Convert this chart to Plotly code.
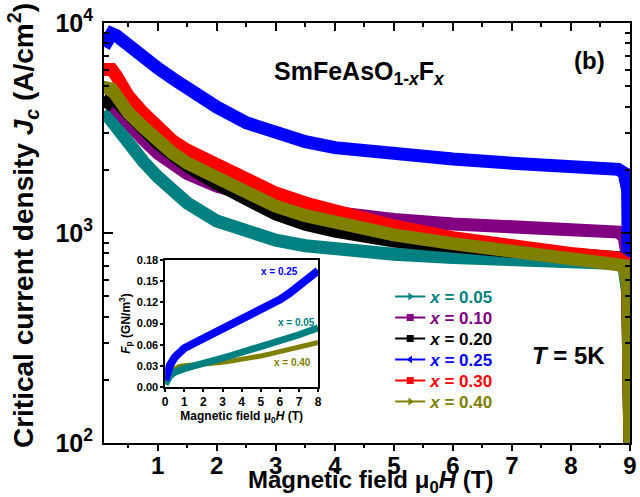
import plotly.graph_objects as go

# ---------------- data ----------------
field = [0.09, 0.15, 0.22, 0.3, 0.5, 0.75, 1, 1.25, 1.5, 2, 2.5, 3, 3.5, 4, 5, 6, 7, 8, 8.8, 8.9, 8.96, 9.0]

jc_005 = [3800, 3600, 3400, 3150, 2650, 2200, 1850, 1580, 1390, 1140, 1010, 925, 870, 835, 792, 765, 745, 728, 715, 680, 520, 90]
jc_010 = [None, 4300, 4200, 3900, 3300, 2800, 2400, 2120, 1920, 1670, 1500, 1390, 1300, 1240, 1160, 1105, 1065, 1035, 1010, 960, 760, 90]
jc_020 = [3950, 4300, 4450, 4250, 3650, 3150, 2680, 2330, 2080, 1720, 1430, 1230, 1100, 1020, 915, 858, 818, 792, 780, 760, 650, 90]
jc_025 = [7700, 8500, 8900, 8700, 7800, 6900, 6100, 5450, 4900, 3980, 3350, 2970, 2720, 2550, 2370, 2250, 2150, 2070, 2010, 1930, 1600, 90]
jc_030 = [6000, 6000, 6000, 5600, 4500, 3750, 3150, 2750, 2480, 2100, 1780, 1550, 1390, 1270, 1080, 950, 860, 800, 760, 730, 600, 90]
jc_040 = [4600, 4900, 4850, 4450, 3750, 3200, 2750, 2400, 2150, 1820, 1530, 1340, 1210, 1120, 980, 890, 820, 765, 730, 700, 560, 90]

labels = ["0.05", "0.10", "0.20", "0.25", "0.30", "0.40"]
colors = ["#008080", "#800080", "#000000", "#0000FF", "#FF0000", "#808000"]
symbols = ["triangle-right", "square", "square", "triangle-left", "square", "triangle-right"]
series = [jc_005, jc_010, jc_020, jc_025, jc_030, jc_040]

field_inset = [0, 0.1, 0.25, 0.5, 0.75, 1, 1.5, 2, 2.5, 3, 3.5, 4, 4.5, 5, 5.5, 6, 6.5, 7, 7.5, 8]
fp_025 = [0.010, 0.020, 0.031, 0.042, 0.050, 0.055, 0.062, 0.069, 0.075, 0.081, 0.088, 0.095, 0.101, 0.108, 0.116, 0.124, 0.133, 0.143, 0.153, 0.165]
fp_005 = [0.004, 0.010, 0.016, 0.021, 0.024, 0.026, 0.030, 0.033, 0.037, 0.041, 0.045, 0.049, 0.052, 0.056, 0.060, 0.065, 0.069, 0.074, 0.079, 0.084]
fp_040 = [0.010, 0.016, 0.022, 0.026, 0.029, 0.030, 0.031, 0.032, 0.033, 0.035, 0.037, 0.039, 0.042, 0.044, 0.047, 0.050, 0.053, 0.056, 0.059, 0.063]

y_tickvals = [100, 1000, 10000]
y_ticktext = ["<b>10<sup>2</sup></b>", "<b>10<sup>3</sup></b>", "<b>10<sup>4</sup></b>"]
y_minor = [m * d for d in (100, 1000) for m in range(2, 10)]

FONT = "Liberation Sans, Arial, sans-serif"

L, R, T, B = 104, 3, 23, 54
W, H = 640, 497
pw, ph = W - L - R, H - T - B

def px(xp):
    return (xp - L) / pw

def py(yp):
    return (H - B - yp) / ph

legend_rows = [297, 318, 339, 360, 381, 402]

fig = go.Figure()

# main curves (thick dense bands)
for lab, col, ys in zip(labels, colors, series):
    fig.add_trace(go.Scatter(x=field, y=ys, mode="lines",
                             line=dict(color=col, width=13),
                             showlegend=False, hoverinfo="skip",
                             xaxis="x", yaxis="y"))

# legend entries, each in its own legend box for exact row spacing
legend_layouts = {}
for i, (lab, col, sym) in enumerate(zip(labels, colors, symbols)):
    lname = "legend" if i == 0 else f"legend{i + 1}"
    fig.add_trace(go.Scatter(x=[None], y=[None], mode="lines+markers",
                             line=dict(color=col, width=2),
                             marker=dict(color=col, symbol=sym, size=7),
                             name=f"<b><span style='color:{col}'><i>x</i> = {lab}</span></b>",
                             legend=lname, xaxis="x", yaxis="y"))
    legend_layouts[lname] = dict(x=px(394), y=py(legend_rows[i]), xanchor="left", yanchor="middle",
                                 bgcolor="rgba(0,0,0,0)", font=dict(size=17, family=FONT),
                                 itemwidth=30)

# dummy traces for extra tick axes
fig.add_trace(go.Scatter(x=[None], y=[None], xaxis="x2", yaxis="y",
                         showlegend=False, hoverinfo="skip"))
fig.add_trace(go.Scatter(x=[None], y=[None], xaxis="x4", yaxis="y",
                         showlegend=False, hoverinfo="skip"))

# inset curves
for ys, col, w in [(fp_040, "#808000", 5), (fp_005, "#008080", 7), (fp_025, "#0000FF", 8)]:
    fig.add_trace(go.Scatter(x=field_inset, y=ys, mode="lines",
                             line=dict(color=col, width=w),
                             showlegend=False, hoverinfo="skip",
                             xaxis="x3", yaxis="y3"))

fig.update_layout(
    width=W, height=H,
    margin=dict(l=L, r=R, t=T, b=B),
    paper_bgcolor="white", plot_bgcolor="white",
    font=dict(family=FONT, color="black"),
    showlegend=True,
    **legend_layouts,
    xaxis=dict(range=[0.09, 9.0], tick0=0, dtick=1, ticks="",
               showline=True, linewidth=2, linecolor="black", mirror=True,
               showgrid=False, zeroline=False, ticklabelstandoff=0,
               tickfont=dict(size=24, family=FONT, weight="bold")),
    xaxis4=dict(range=[0.09, 9.0], overlaying="x", side="bottom", tick0=0, dtick=1,
                ticks="outside", ticklen=7, tickwidth=2, tickcolor="black",
                minor=dict(ticks="outside", ticklen=4, tickwidth=2, dtick=0.5, tick0=0, showgrid=False),
                showticklabels=False, showline=False, showgrid=False, zeroline=False),
    xaxis2=dict(range=[0.09, 9.0], overlaying="x", side="top", tick0=0, dtick=1,
                ticks="inside", ticklen=8, tickwidth=2, tickcolor="black",
                minor=dict(ticks="inside", ticklen=4, tickwidth=2, dtick=0.5, tick0=0, showgrid=False),
                showticklabels=False, showline=False, showgrid=False, zeroline=False),
    yaxis=dict(type="log", range=[2, 4],
               tickvals=y_tickvals, ticktext=y_ticktext,
               ticks="inside", ticklen=9, tickwidth=2, tickcolor="black",
               minor=dict(tickvals=y_minor, ticks="inside", ticklen=5, tickwidth=2, showgrid=False),
               showline=True, linewidth=2, linecolor="black", mirror="ticks",
               showgrid=False, zeroline=False, ticklabelstandoff=4,
               tickfont=dict(size=25, family=FONT)),
    xaxis3=dict(domain=[px(166), px(321)], anchor="y3", range=[0, 8], dtick=1, tick0=0,
                ticks="outside", ticklen=3, tickwidth=1.5, tickcolor="black",
                showline=True, linewidth=1.5, linecolor="black", mirror=True,
                showgrid=False, zeroline=False,
                tickfont=dict(size=12, family=FONT, weight="bold"),
                title=dict(text="<b>Magnetic field μ<sub>0</sub><i>H</i> (T)</b>",
                           font=dict(size=12, family=FONT), standoff=0)),
    yaxis3=dict(domain=[py(387), py(260)], anchor="x3", range=[0, 0.18], dtick=0.03, tick0=0,
                tickformat=".2f",
                ticks="outside", ticklen=3, tickwidth=1.5, tickcolor="black",
                showline=True, linewidth=1.5, linecolor="black", mirror=True,
                showgrid=False, zeroline=False,
                tickfont=dict(size=11, family=FONT, weight="bold"),
                title=dict(text="<b><i>F</i><sub>p</sub> (GN/m<sup>3</sup>)</b>",
                           font=dict(size=12, family=FONT), standoff=4)),
)

annotations = [
    dict(text="<b>Magnetic field μ<sub>0</sub><i>H</i> (T)</b>", x=px(374), y=py(499),
         xref="paper", yref="paper", xanchor="center", yanchor="bottom",
         showarrow=False, font=dict(size=24, family=FONT, color="black")),
    dict(text="<b>Critical current density <i>J</i><sub><i>c</i></sub> (A/cm<sup>2</sup>)</b>",
         x=px(22), y=py(226), xref="paper", yref="paper", xanchor="center", yanchor="middle",
         textangle=-90, showarrow=False, font=dict(size=28, family=FONT, color="black")),
    dict(text="<b>SmFeAsO<sub>1-<i>x</i></sub>F<sub><i>x</i></sub></b>", x=px(274), y=py(73),
         xref="paper", yref="paper", xanchor="left", yanchor="middle",
         showarrow=False, font=dict(size=25, family=FONT, color="black")),
    dict(text="<b>(b)</b>", x=px(596), y=py(60), xref="paper", yref="paper",
         xanchor="center", yanchor="middle", showarrow=False,
         font=dict(size=24, family=FONT, color="black")),
    dict(text="<b><i>T</i> = 5K</b>", x=px(575), y=py(355), xref="paper", yref="paper",
         xanchor="center", yanchor="middle", showarrow=False,
         font=dict(size=24, family=FONT, color="black")),
    dict(text="<b>x = 0.25</b>", x=5.96, y=0.163, xref="x3", yref="y3",
         showarrow=False, font=dict(size=10, family=FONT, color="#0000FF")),
    dict(text="<b>x = 0.05</b>", x=6.85, y=0.092, xref="x3", yref="y3",
         showarrow=False, font=dict(size=10, family=FONT, color="#008080")),
    dict(text="<b>x = 0.40</b>", x=6.64, y=0.035, xref="x3", yref="y3",
         showarrow=False, font=dict(size=10, family=FONT, color="#808000")),
]
fig.update_layout(annotations=annotations)

fig.write_html("out.html")
